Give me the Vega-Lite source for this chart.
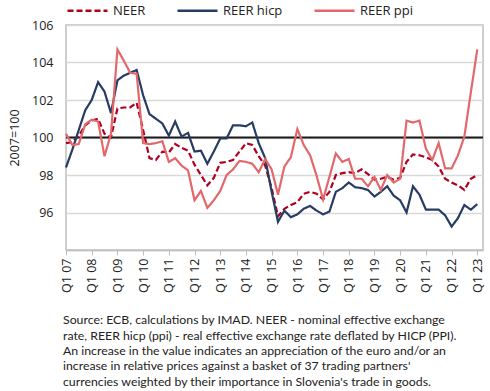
{
  "$schema": "https://vega.github.io/schema/vega-lite/v6.json",
  "width": 417,
  "height": 225,
  "autosize": {"type": "none"},
  "padding": {"left": 66, "top": 25, "right": 7, "bottom": 141},
  "config": {
    "font": "Open Sans",
    "view": {"stroke": "#BFBFBF", "strokeWidth": 1.5},
    "axis": {"labelColor": "#222222", "titleColor": "#222222", "labelFont": "Open Sans", "titleFont": "Open Sans"},
    "legend": {
      "orient": "top",
      "direction": "horizontal",
      "symbolType": "stroke",
      "symbolSize": 1600,
      "symbolStrokeWidth": 2.5,
      "labelFontSize": 13,
      "labelColor": "#222222",
      "columnPadding": 26,
      "labelOffset": 4,
      "offset": 7,
      "padding": 0
    }
  },
  "title": {
    "text": [
      "Source: ECB, calculations by IMAD. NEER - nominal effective exchange",
      "rate, REER hicp (ppi) - real effective exchange rate deflated by HICP (PPI).",
      "An increase in the value indicates an appreciation of the euro and/or an",
      "increase in relative prices against a basket of 37 trading partners'",
      "currencies weighted by their importance in Slovenia's trade in goods."
    ],
    "orient": "bottom",
    "anchor": "start",
    "frame": "group",
    "font": "Lato",
    "fontSize": 12.3,
    "fontWeight": "normal",
    "color": "#222222",
    "lineHeight": 15.3,
    "offset": 22,
    "dx": -3
  },
  "layer": [
    {
      "data": {"values": [{}]},
      "mark": {"type": "rule", "color": "#1a1a1a", "strokeWidth": 2},
      "encoding": {
        "y": {
          "datum": 100,
          "type": "quantitative",
          "scale": {"domain": [94, 106], "nice": false, "zero": false},
          "axis": {
            "title": "2007=100",
            "values": [94, 96, 98, 100, 102, 104, 106],
            "labelExpr": "datum.value == 94 ? '' : datum.label",
            "labelOverlap": false,
            "labelFlush": false,
            "grid": true,
            "gridColor": "#D9D9D9",
            "gridWidth": 1.5,
            "ticks": false,
            "domain": false,
            "labelPadding": 13,
            "labelFontSize": 12.5,
            "titleFontSize": 12.5,
            "titleFontWeight": "normal",
            "titlePadding": 10
          }
        }
      }
    },
    {
      "data": {
        "values": [
          {"q": "2007-01-01", "NEER": 99.7, "REER hicp": 98.4, "REER ppi": 100.2},
          {"q": "2007-04-01", "NEER": 99.75, "REER hicp": 99.35, "REER ppi": 99.6},
          {"q": "2007-07-01", "NEER": 100.1, "REER hicp": 100.4, "REER ppi": 99.65},
          {"q": "2007-10-01", "NEER": 100.65, "REER hicp": 101.45, "REER ppi": 100.7},
          {"q": "2008-01-01", "NEER": 100.9, "REER hicp": 102.0, "REER ppi": 100.95},
          {"q": "2008-04-01", "NEER": 101.0, "REER hicp": 102.95, "REER ppi": 100.85},
          {"q": "2008-07-01", "NEER": 100.2, "REER hicp": 102.45, "REER ppi": 99.0},
          {"q": "2008-10-01", "NEER": 100.0, "REER hicp": 101.3, "REER ppi": 100.2},
          {"q": "2009-01-01", "NEER": 101.55, "REER hicp": 103.05, "REER ppi": 104.7},
          {"q": "2009-04-01", "NEER": 101.6, "REER hicp": 103.3, "REER ppi": 104.1},
          {"q": "2009-07-01", "NEER": 101.6, "REER hicp": 103.45, "REER ppi": 103.45},
          {"q": "2009-10-01", "NEER": 101.85, "REER hicp": 103.6, "REER ppi": 103.4},
          {"q": "2010-01-01", "NEER": 100.4, "REER hicp": 102.25, "REER ppi": 99.7},
          {"q": "2010-04-01", "NEER": 98.9, "REER hicp": 101.25, "REER ppi": 99.65},
          {"q": "2010-07-01", "NEER": 98.8, "REER hicp": 101.0, "REER ppi": 99.7},
          {"q": "2010-10-01", "NEER": 99.25, "REER hicp": 100.75, "REER ppi": 99.8},
          {"q": "2011-01-01", "NEER": 99.2, "REER hicp": 100.1, "REER ppi": 98.7},
          {"q": "2011-04-01", "NEER": 99.65, "REER hicp": 100.85, "REER ppi": 98.9},
          {"q": "2011-07-01", "NEER": 99.45, "REER hicp": 100.05, "REER ppi": 98.5},
          {"q": "2011-10-01", "NEER": 99.3, "REER hicp": 100.25, "REER ppi": 98.25},
          {"q": "2012-01-01", "NEER": 98.55, "REER hicp": 99.25, "REER ppi": 96.65},
          {"q": "2012-04-01", "NEER": 98.0, "REER hicp": 99.3, "REER ppi": 97.15},
          {"q": "2012-07-01", "NEER": 97.45, "REER hicp": 98.6, "REER ppi": 96.25},
          {"q": "2012-10-01", "NEER": 97.85, "REER hicp": 99.25, "REER ppi": 96.65},
          {"q": "2013-01-01", "NEER": 98.65, "REER hicp": 99.95, "REER ppi": 97.15},
          {"q": "2013-04-01", "NEER": 98.7, "REER hicp": 99.95, "REER ppi": 98.0},
          {"q": "2013-07-01", "NEER": 98.8, "REER hicp": 100.65, "REER ppi": 98.3},
          {"q": "2013-10-01", "NEER": 99.25, "REER hicp": 100.65, "REER ppi": 98.75},
          {"q": "2014-01-01", "NEER": 99.7, "REER hicp": 100.6, "REER ppi": 98.7},
          {"q": "2014-04-01", "NEER": 99.6, "REER hicp": 100.8, "REER ppi": 98.6},
          {"q": "2014-07-01", "NEER": 99.0, "REER hicp": 99.7, "REER ppi": 98.15},
          {"q": "2014-10-01", "NEER": 98.5, "REER hicp": 98.9, "REER ppi": 98.85},
          {"q": "2015-01-01", "NEER": 97.3, "REER hicp": 97.1, "REER ppi": 98.3},
          {"q": "2015-04-01", "NEER": 95.8, "REER hicp": 95.5, "REER ppi": 96.95},
          {"q": "2015-07-01", "NEER": 96.2, "REER hicp": 96.1, "REER ppi": 98.45},
          {"q": "2015-10-01", "NEER": 96.4, "REER hicp": 95.75, "REER ppi": 98.95},
          {"q": "2016-01-01", "NEER": 96.55, "REER hicp": 95.9, "REER ppi": 100.45},
          {"q": "2016-04-01", "NEER": 97.0, "REER hicp": 96.2, "REER ppi": 99.6},
          {"q": "2016-07-01", "NEER": 97.1, "REER hicp": 96.35, "REER ppi": 99.05},
          {"q": "2016-10-01", "NEER": 97.0, "REER hicp": 96.1, "REER ppi": 97.95},
          {"q": "2017-01-01", "NEER": 96.7, "REER hicp": 95.9, "REER ppi": 96.7},
          {"q": "2017-04-01", "NEER": 97.1, "REER hicp": 96.05, "REER ppi": 97.9},
          {"q": "2017-07-01", "NEER": 98.0, "REER hicp": 97.1, "REER ppi": 99.15},
          {"q": "2017-10-01", "NEER": 98.1, "REER hicp": 97.3, "REER ppi": 98.7},
          {"q": "2018-01-01", "NEER": 98.15, "REER hicp": 97.6, "REER ppi": 98.85},
          {"q": "2018-04-01", "NEER": 98.1, "REER hicp": 97.35, "REER ppi": 97.8},
          {"q": "2018-07-01", "NEER": 98.3, "REER hicp": 97.3, "REER ppi": 97.8},
          {"q": "2018-10-01", "NEER": 98.05, "REER hicp": 97.2, "REER ppi": 97.4},
          {"q": "2019-01-01", "NEER": 97.75, "REER hicp": 96.85, "REER ppi": 97.9},
          {"q": "2019-04-01", "NEER": 97.8, "REER hicp": 97.1, "REER ppi": 97.2},
          {"q": "2019-07-01", "NEER": 97.9, "REER hicp": 97.4, "REER ppi": 98.0},
          {"q": "2019-10-01", "NEER": 97.75, "REER hicp": 96.9, "REER ppi": 97.6},
          {"q": "2020-01-01", "NEER": 97.85, "REER hicp": 96.65, "REER ppi": 97.8},
          {"q": "2020-04-01", "NEER": 98.7, "REER hicp": 96.0, "REER ppi": 100.9},
          {"q": "2020-07-01", "NEER": 99.1, "REER hicp": 97.4, "REER ppi": 100.8},
          {"q": "2020-10-01", "NEER": 99.05, "REER hicp": 96.95, "REER ppi": 100.9},
          {"q": "2021-01-01", "NEER": 98.95, "REER hicp": 96.15, "REER ppi": 99.4},
          {"q": "2021-04-01", "NEER": 98.8, "REER hicp": 96.15, "REER ppi": 98.8},
          {"q": "2021-07-01", "NEER": 98.45, "REER hicp": 96.15, "REER ppi": 99.7},
          {"q": "2021-10-01", "NEER": 97.8, "REER hicp": 95.85, "REER ppi": 98.35},
          {"q": "2022-01-01", "NEER": 97.6, "REER hicp": 95.25, "REER ppi": 98.35},
          {"q": "2022-04-01", "NEER": 97.45, "REER hicp": 95.7, "REER ppi": 99.05},
          {"q": "2022-07-01", "NEER": 97.2, "REER hicp": 96.4, "REER ppi": 100.05},
          {"q": "2022-10-01", "NEER": 97.8, "REER hicp": 96.15, "REER ppi": 102.4},
          {"q": "2023-01-01", "NEER": 98.0, "REER hicp": 96.45, "REER ppi": 104.7}
        ]
      },
      "transform": [{"fold": ["NEER", "REER hicp", "REER ppi"], "as": ["series", "value"]}],
      "mark": {"type": "line", "strokeWidth": 2.2},
      "encoding": {
        "x": {
          "field": "q",
          "type": "temporal",
          "scale": {
            "type": "utc",
            "domain": [
              {"year": 2007, "month": 1, "date": 1, "utc": true},
              {"year": 2023, "month": 3, "date": 23, "utc": true}
            ]
          },
          "axis": {
            "title": null,
            "grid": false,
            "tickCount": {"interval": "year", "step": 1},
            "labelExpr": "'Q1 ' + utcFormat(datum.value, '%y')",
            "labelAngle": -90,
            "labelFontSize": 12.5,
            "labelPadding": 3,
            "labelOverlap": false,
            "labelFlush": false,
            "tickColor": "#BFBFBF",
            "tickSize": 5,
            "domainColor": "#BFBFBF",
            "domainWidth": 1.5
          }
        },
        "y": {
          "field": "value",
          "type": "quantitative",
          "scale": {"domain": [94, 106], "nice": false, "zero": false},
          "axis": {
            "title": "2007=100",
            "values": [94, 96, 98, 100, 102, 104, 106],
            "labelExpr": "datum.value == 94 ? '' : datum.label",
            "labelOverlap": false,
            "labelFlush": false,
            "grid": true,
            "gridColor": "#D9D9D9",
            "gridWidth": 1.5,
            "ticks": false,
            "domain": false,
            "labelPadding": 13,
            "labelFontSize": 12.5,
            "titleFontSize": 12.5,
            "titleFontWeight": "normal",
            "titlePadding": 10
          }
        },
        "color": {
          "field": "series",
          "type": "nominal",
          "scale": {
            "domain": ["NEER", "REER hicp", "REER ppi"],
            "range": ["#B0001E", "#263C64", "#E2686B"]
          },
          "legend": {"title": null}
        },
        "strokeDash": {
          "field": "series",
          "type": "nominal",
          "scale": {
            "domain": ["NEER", "REER hicp", "REER ppi"],
            "range": [[6, 3], [1, 0], [1, 0]]
          },
          "legend": {"title": null}
        }
      }
    }
  ]
}
